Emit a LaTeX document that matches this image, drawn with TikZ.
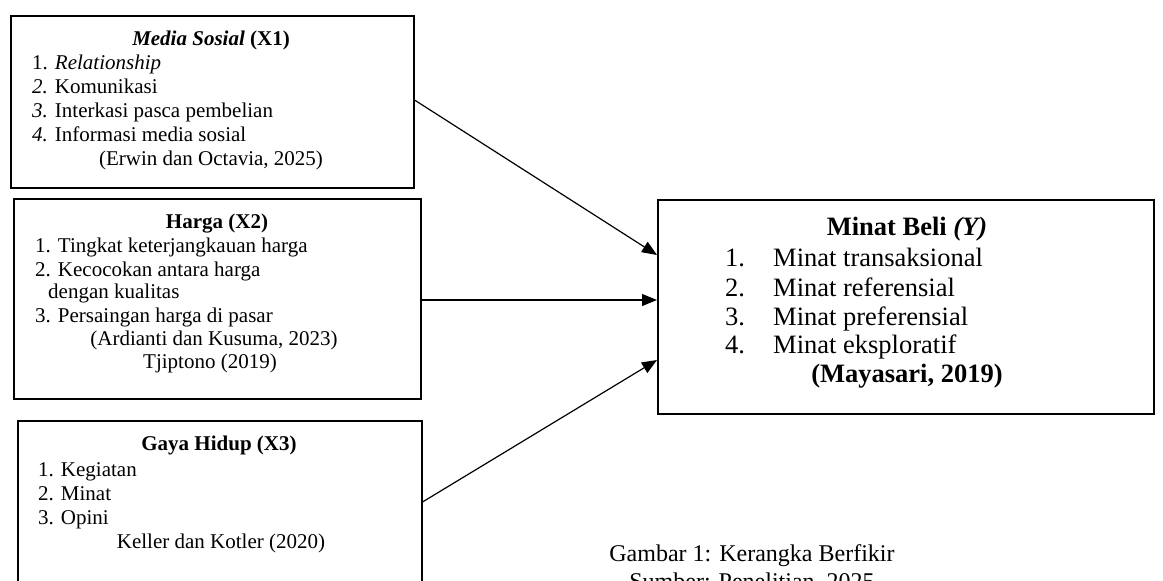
\documentclass[tikz,border=0pt]{standalone}
\usepackage{fontspec}
\setmainfont{Liberation Serif}
\usetikzlibrary{arrows.meta}
\tikzset{
  box/.style={draw=black, line width=1.5pt, anchor=north west, inner sep=0pt},
  txt/.style={inner sep=0pt, anchor=base west, font=\fontsize{21}{23}\selectfont},
  ctxt/.style={inner sep=0pt, anchor=base, font=\fontsize{21}{23}\selectfont},
  ytxt/.style={inner sep=0pt, anchor=base west, font=\fontsize{26.5}{29}\selectfont},
  yctxt/.style={inner sep=0pt, anchor=base, font=\fontsize{26.5}{29}\selectfont},
  captxt/.style={inner sep=0pt, anchor=base, font=\fontsize{24}{28}\selectfont},
  arr/.style={line width=1.2pt, -{Triangle[length=15pt,width=12pt]}}
}
\begin{document}
\begin{tikzpicture}[x=1pt,y=-1pt]
\useasboundingbox (0,0) rectangle (1163,581);
\clip (0,0) rectangle (1163,581);
\fill[white] (0,0) rectangle (1163,581);

% boxes
\node[box, minimum width=403pt, minimum height=172pt] (x1) at (10,15) {};
\node[box, minimum width=407pt, minimum height=200pt] (x2) at (13,198) {};
\node[box, minimum width=404pt, minimum height=200pt] (x3) at (17,420) {};
\node[box, minimum width=496pt, minimum height=214pt] (y) at (657,199) {};

% X1 text
\node[ctxt] (x1t) at (211,45) {\textbf{\textit{Media Sosial}} \textbf{(X1)}};
\node[txt] (x1a) at (32,69) {1. \textit{Relationship}};
\node[txt] (x1b) at (32,93) {\textit{2.} Komunikasi};
\node[txt] (x1c) at (32,117) {\textit{3.} Interkasi pasca pembelian};
\node[txt] (x1d) at (32,141) {\textit{4.} Informasi media sosial};
\node[ctxt] (x1s) at (211,165) {(Erwin dan Octavia, 2025)};

% X2 text
\node[ctxt] (x2t) at (217,228) {\textbf{Harga (X2)}};
\node[txt] (x2a) at (35,252) {1. Tingkat keterjangkauan harga};
\node[txt] (x2b) at (35,276) {2. Kecocokan antara harga};
\node[txt] (x2c) at (48,298) {dengan kualitas};
\node[txt] (x2d) at (35,322) {3. Persaingan harga di pasar};
\node[ctxt] (x2s) at (214,345) {(Ardianti dan Kusuma, 2023)};
\node[ctxt] (x2u) at (210,368) {Tjiptono (2019)};

% X3 text
\node[ctxt] (x3t) at (219,450) {\textbf{Gaya Hidup (X3)}};
\node[txt] (x3a) at (38,476) {1. Kegiatan};
\node[txt] (x3b) at (38,500) {2. Minat};
\node[txt] (x3c) at (38,524) {3. Opini};
\node[ctxt] (x3s) at (221,548) {Keller dan Kotler (2020)};

% Y text
\node[yctxt] (yt) at (907,235) {\textbf{Minat Beli \textit{(Y)}}};
\node[ytxt] (y1n) at (725,266) {1.};
\node[ytxt] (y1) at (773,266) {Minat transaksional};
\node[ytxt] (y2n) at (725,296) {2.};
\node[ytxt] (y2) at (773,296) {Minat referensial};
\node[ytxt] (y3n) at (725,325) {3.};
\node[ytxt] (y3) at (773,325) {Minat preferensial};
\node[ytxt] (y4n) at (725,353) {4.};
\node[ytxt] (y4) at (773,353) {Minat eksploratif};
\node[yctxt] (ys) at (907,382) {\textbf{(Mayasari, 2019)}};

% caption
\node[captxt] (cap1) at (752,561) {Gambar 1: Kerangka Berfikir};
\node[captxt] (cap2) at (752,589) {Sumber: Penelitian, 2025};

% arrows
\draw[arr] (x1.east |- 0,100) -- (y.west |- 0,255);
\draw[arr] (x2.east |- 0,300) -- (y.west |- 0,300);
\draw[arr] (x3.east |- 0,502) -- (y.west |- 0,360);
\end{tikzpicture}
\end{document}
